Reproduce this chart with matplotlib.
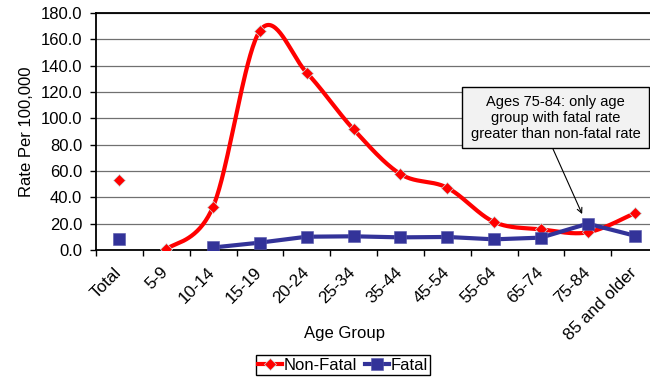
import numpy as np
import matplotlib
matplotlib.use("Agg")
import matplotlib.pyplot as plt
from matplotlib.patches import Rectangle
from matplotlib.lines import Line2D
import matplotlib.transforms as mtransforms

plt.rcParams['font.family'] = ['Liberation Sans', 'DejaVu Sans']

categories = ['Total', '5-9', '10-14', '15-19', '20-24', '25-34', '35-44',
              '45-54', '55-64', '65-74', '75-84', '85 and older']
non_fatal = [53.2, 0.5, 32.9, 166.5, 134.6, 91.6, 57.7, 47.3, 21.3, 15.7, 13.4, 27.9]
fatal = [8.3, np.nan, 1.9, 5.6, 10.1, 10.4, 9.6, 9.9, 8.1, 9.4, 20.0, 10.9]
y_ticks = [0, 20, 40, 60, 80, 100, 120, 140, 160, 180]

RED = '#FF0000'
BLUE = '#333399'

W, H = 650, 378
fig = plt.figure(figsize=(W / 100, H / 100), dpi=100)

# plot area (pixel box), extending slightly past the right edge
left, right, top, bottom = 96, 658, 13, 250
ax = fig.add_axes([left / W, 1 - bottom / H, (right - left) / W, (bottom - top) / H])


def smooth_curve(xs, ys, n=40):
    """Cubic Bezier smoothing through every point (Catmull-Rom style)."""
    pts = np.column_stack([xs, ys]).astype(float)
    m = len(pts)
    out = []
    for i in range(m - 1):
        p0 = pts[i - 1] if i > 0 else pts[i]
        p1 = pts[i]
        p2 = pts[i + 1]
        p3 = pts[i + 2] if i + 2 < m else pts[i + 1]
        b1 = p1 + (p2 - p0) / 6.0
        b2 = p2 - (p3 - p1) / 6.0
        t = np.linspace(0, 1, n)[:, None]
        seg = ((1 - t) ** 3) * p1 + 3 * ((1 - t) ** 2) * t * b1 \
            + 3 * (1 - t) * t ** 2 * b2 + t ** 3 * p2
        out.append(seg if i == 0 else seg[1:])
    c = np.vstack(out)
    return c[:, 0], c[:, 1]


x = np.arange(len(categories))
nf = np.array(non_fatal, dtype=float)
fa = np.array(fatal, dtype=float)

# Non-fatal: smoothed line over age groups, separate "Total" marker
sx, sy = smooth_curve(x[1:], nf[1:])
ax.plot(sx, sy, color=RED, lw=3.0, solid_capstyle='round', zorder=3)
ax.plot(x, nf, linestyle='none', marker='D', ms=6.3, color=RED,
        mec='#c8e6e6', mew=0.5, zorder=4)

# Fatal: straight segments
mask = ~np.isnan(fa)
ax.plot(x[2:], fa[2:], color=BLUE, lw=3.0, zorder=5)
ax.plot(x[mask], fa[mask], linestyle='none', marker='s', ms=8.8, color=BLUE,
        mec='#5555aa', mew=0.4, zorder=6)

ax.set_xlim(-0.5, len(categories) - 0.5)
ax.set_ylim(0, 180)
ax.set_yticks(y_ticks)
ax.set_yticklabels([f'{v:.1f}' for v in y_ticks], fontsize=12)
ax.yaxis.grid(True, color='#707070', lw=0.9, zorder=0)
ax.set_axisbelow(True)

ax.set_xticks(x)
ax.set_xticklabels(categories, fontsize=12.3, rotation=45, ha='right', va='top')
ax.set_xticks(np.arange(-0.5, len(categories), 1.0), minor=True)
ax.tick_params(axis='x', which='major', length=0, pad=10.5)
ax.tick_params(axis='x', which='minor', length=4.5, width=1, direction='out')
ax.tick_params(axis='y', length=4.5, width=1, direction='out', pad=5.5)
offset = mtransforms.ScaledTranslation(5 / 100, 0, fig.dpi_scale_trans)
for lbl in ax.get_xticklabels():
    lbl.set_transform(lbl.get_transform() + offset)

for s in ['left', 'bottom', 'top']:
    ax.spines[s].set_color('black')
    ax.spines[s].set_linewidth(1.3)
ax.spines['right'].set_visible(False)

fig.text(26.7 / W, 1 - 131.5 / H, 'Rate Per 100,000', rotation=90,
         ha='center', va='center', fontsize=12)
fig.text(344 / W, 1 - 338 / H, 'Age Group', ha='center', va='baseline',
         fontsize=12)

# callout box with arrow
bx0, bx1, by0, by1 = 461.7, 649.3, 87.3, 148.3
fig.patches.append(Rectangle((bx0 / W, 1 - by1 / H), (bx1 - bx0) / W,
                             (by1 - by0) / H, transform=fig.transFigure,
                             facecolor='#f2f2f2', edgecolor='black', lw=1.0,
                             zorder=7))
fig.text((bx0 + bx1) / 2 / W, 1 - (by0 + by1) / 2 / H,
         'Ages 75-84: only age\ngroup with fatal rate\ngreater than non-fatal rate',
         ha='center', va='center', multialignment='center', fontsize=10.5,
         linespacing=1.2, zorder=8)
ax.annotate('', xy=(9.88, 27.3), xycoords='data',
            xytext=(552.7, H - by1), textcoords='figure pixels',
            arrowprops=dict(arrowstyle='->', color='black', lw=0.8,
                            mutation_scale=9, shrinkA=0, shrinkB=0),
            zorder=8, annotation_clip=False)

handles = [Line2D([], [], color=RED, lw=3.0, marker='D', ms=6.3,
                  mec='#c8e6e6', mew=0.5),
           Line2D([], [], color=BLUE, lw=3.0, marker='s', ms=8.8,
                  mec='#5555aa', mew=0.4)]
leg = fig.legend(handles, ['Non-Fatal', 'Fatal'], loc='center',
                 bbox_to_anchor=(343 / W, 1 - 365 / H), ncol=2, fontsize=12,
                 frameon=True, fancybox=False, edgecolor='black', framealpha=1,
                 borderpad=0.15, handlelength=1.45, handletextpad=0.1,
                 columnspacing=0.45, borderaxespad=0)
leg.get_frame().set_linewidth(1.0)

fig.savefig('out.png', dpi=100)
